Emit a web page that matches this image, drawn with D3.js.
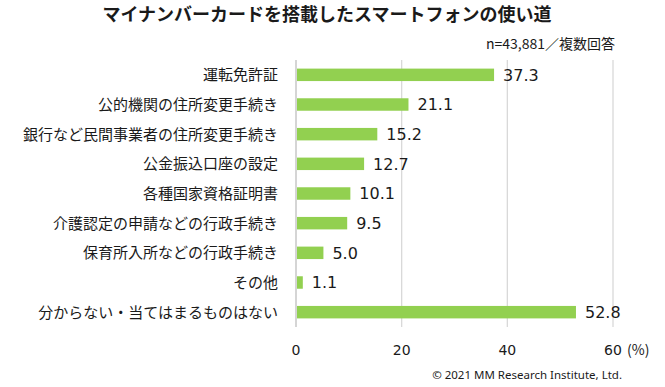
<!DOCTYPE html>
<html>
<head>
<meta charset="utf-8">
<script src="https://cdn.jsdelivr.net/npm/d3@7"></script>
<style>
	body { margin: 0; background: #fff; }
	svg text { fill: #1a1a1a; }
</style>
</head>
<body>
<div id="chart"></div>
<script>
// data
var categories = [
	"運転免許証",
	"公的機関の住所変更手続き",
	"銀行など民間事業者の住所変更手続き",
	"公金振込口座の設定",
	"各種国家資格証明書",
	"介護認定の申請などの行政手続き",
	"保育所入所などの行政手続き",
	"その他",
	"分からない・当てはまるものはない"
];
var values = [37.3, 21.1, 15.2, 12.7, 10.1, 9.5, 5.0, 1.1, 52.8];
var xTicks = [0, 20, 40, 60];

var width = 665, height = 387;
var jp = "'Noto Sans CJK JP', 'Noto Sans', sans-serif";
var num = "Verdana, 'DejaVu Sans', sans-serif";

var svg = d3.select("#chart").append("svg")
	.attr("width", width)
	.attr("height", height);

var x = d3.scaleLinear().domain([0, 60]).range([296, 613]);
var y = d3.scaleBand().domain(categories).range([60, 327]).paddingInner(0.58).paddingOuter(0.29);

// grid
svg.append("g").selectAll("line")
	.data(xTicks)
	.enter().append("line")
		.attr("x1", function(d) { return x(d); })
		.attr("x2", function(d) { return x(d); })
		.attr("y1", 60)
		.attr("y2", 327)
		.attr("stroke", function(d) { return d === 0 ? "#bfbfbf" : "#d9d9d9"; })
		.attr("stroke-width", 1.3);

// bars
svg.append("g").selectAll("rect")
	.data(values)
	.enter().append("rect")
		.attr("x", x(0) + 1)
		.attr("y", function(d, i) { return y(categories[i]); })
		.attr("width", function(d) { return x(d) - x(0); })
		.attr("height", y.bandwidth())
		.attr("fill", "#92d050");

// value labels
svg.append("g").selectAll("text")
	.data(values)
	.enter().append("text")
		.attr("x", function(d) { return x(d) + 10; })
		.attr("y", function(d, i) { return y(categories[i]) + y.bandwidth() / 2; })
		.attr("dy", "0.36em")
		.style("font-family", num)
		.style("font-size", "16px")
		.text(function(d) { return d3.format(".1f")(d); });

// category labels
svg.append("g").selectAll("text")
	.data(categories)
	.enter().append("text")
		.attr("x", 278)
		.attr("y", function(d) { return y(d) + y.bandwidth() / 2; })
		.attr("dy", "0.36em")
		.attr("text-anchor", "end")
		.style("font-family", jp)
		.style("font-size", "15px")
		.text(function(d) { return d; });

// x axis labels
svg.append("g").selectAll("text")
	.data(xTicks)
	.enter().append("text")
		.attr("x", function(d) { return x(d); })
		.attr("y", 350)
		.attr("dy", "0.36em")
		.attr("text-anchor", "middle")
		.style("font-family", num)
		.style("font-size", "14px")
		.text(function(d) { return d; });

svg.append("text")
	.attr("x", 627)
	.attr("y", 350)
	.attr("dy", "0.36em")
	.style("font-family", jp)
	.style("font-size", "14px")
	.text("(%)");

// title and notes
svg.append("text")
	.attr("x", 327)
	.attr("y", 15)
	.attr("dy", "0.36em")
	.attr("text-anchor", "middle")
	.style("font-family", jp)
	.style("font-size", "18px")
	.style("font-weight", "bold")
	.text("マイナンバーカードを搭載したスマートフォンの使い道");

svg.append("text")
	.attr("x", 615)
	.attr("y", 44)
	.attr("dy", "0.36em")
	.attr("text-anchor", "end")
	.style("font-family", jp)
	.style("font-size", "14px")
	.text("n=43,881／複数回答");

svg.append("text")
	.attr("x", 622)
	.attr("y", 375)
	.attr("dy", "0.36em")
	.attr("text-anchor", "end")
	.style("font-family", "'Noto Sans', sans-serif")
	.style("font-size", "11.5px")
	.text("© 2021 MM Research Institute, Ltd.");
</script>
</body>
</html>
